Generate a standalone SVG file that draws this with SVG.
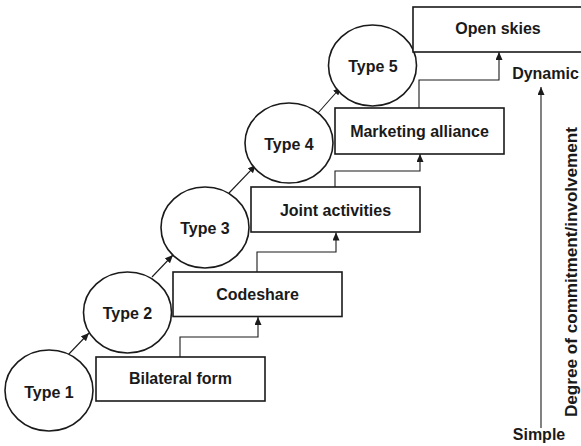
<svg xmlns="http://www.w3.org/2000/svg" width="581" height="446" viewBox="0 0 581 446">
<style>
.shape{fill:#fff;stroke:#1a1a1a;stroke-width:1.6}
.conn{fill:none;stroke:#1a1a1a;stroke-width:1.1}
text{font-family:"Liberation Sans",Arial,sans-serif;font-weight:bold;font-size:16px;fill:#1a1a1a}
.c{text-anchor:middle}
</style>
<defs>
<marker id="ah" markerUnits="userSpaceOnUse" markerWidth="9" markerHeight="7" refX="8" refY="3.5" orient="auto">
<path d="M0,0 L8,3.5 L0,7 z" fill="#1a1a1a"/>
</marker>
</defs>
<rect width="581" height="446" fill="#fff"/>
<g id="connectors">
<line class="conn" x1="67" y1="356" x2="89" y2="333" marker-end="url(#ah)"/>
<line class="conn" x1="152" y1="277" x2="173" y2="255" marker-end="url(#ah)"/>
<line class="conn" x1="229" y1="193" x2="256" y2="165" marker-end="url(#ah)"/>
<line class="conn" x1="318" y1="113" x2="341" y2="87" marker-end="url(#ah)"/>
<polyline class="conn" points="180,357 180,337 258,337 258,317" marker-end="url(#ah)"/>
<polyline class="conn" points="257,272 257,252 336,252 336,232.5" marker-end="url(#ah)"/>
<polyline class="conn" points="335,187 335,171 420,171 420,154" marker-end="url(#ah)"/>
<polyline class="conn" points="419,108 419,80 499,80 499,52" marker-end="url(#ah)"/>
<line class="conn" x1="541" y1="428" x2="541" y2="87" marker-end="url(#ah)"/>
</g>
<g id="type1"><ellipse class="shape" cx="49" cy="390.5" rx="44" ry="40.5"/><text class="c" x="49" y="398">Type 1</text></g>
<g id="type2"><ellipse class="shape" cx="127.5" cy="312.5" rx="44" ry="40.5"/><text class="c" x="127.5" y="319">Type 2</text></g>
<g id="type3"><ellipse class="shape" cx="205" cy="227.5" rx="44" ry="40.5"/><text class="c" x="205" y="234">Type 3</text></g>
<g id="type4"><ellipse class="shape" cx="289" cy="143" rx="44" ry="40"/><text class="c" x="289" y="150">Type 4</text></g>
<g id="type5"><ellipse class="shape" cx="372.5" cy="65.5" rx="44" ry="40.5"/><text class="c" x="373" y="72">Type 5</text></g>
<g id="bilateral"><rect class="shape" x="96" y="357" width="169" height="44"/><text class="c" x="180.5" y="384">Bilateral form</text></g>
<g id="codeshare"><rect class="shape" x="173" y="272" width="169" height="44.5"/><text class="c" x="257.5" y="300">Codeshare</text></g>
<g id="joint"><rect class="shape" x="251" y="187" width="169" height="45"/><text class="c" x="335.5" y="216">Joint activities</text></g>
<g id="marketing"><rect class="shape" x="335" y="108" width="169" height="46"/><text class="c" x="419.5" y="137">Marketing alliance</text></g>
<g id="openskies"><rect class="shape" x="413" y="7" width="175" height="45"/><text class="c" x="498" y="34">Open skies</text></g>
<g id="axis">
<text class="c" x="545.5" y="79">Dynamic</text>
<text class="c" x="539" y="440">Simple</text>
<text class="c" transform="translate(577,272) rotate(-90)" textLength="290" lengthAdjust="spacingAndGlyphs">Degree of commitment/involvement</text>
</g>
</svg>
